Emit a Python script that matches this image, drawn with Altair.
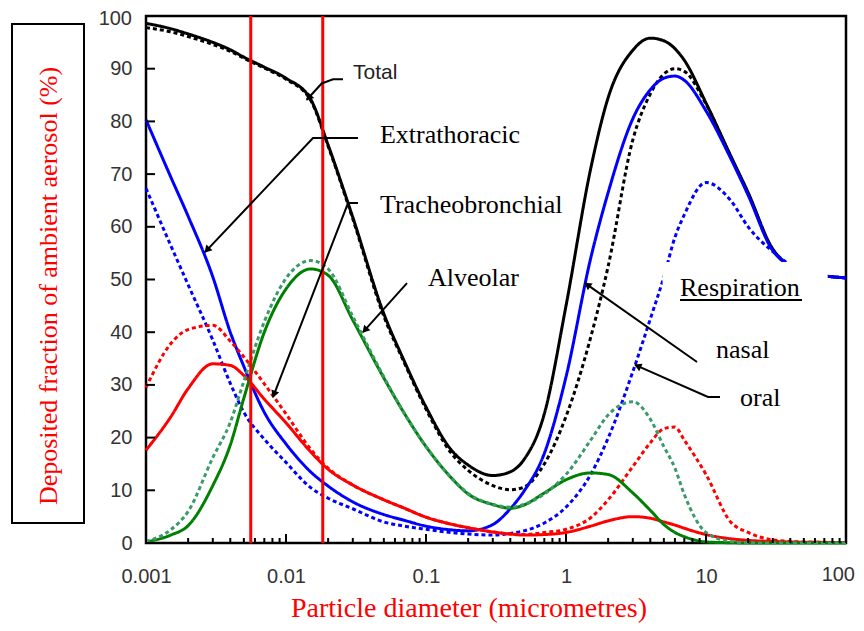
import math
import altair as alt
import pandas as pd

# ---------------- data ----------------
DIAMETER = [0.001, 0.0015, 0.002, 0.003, 0.004, 0.005, 0.007, 0.01, 0.015, 0.02,
            0.03, 0.05, 0.07, 0.1, 0.15, 0.2, 0.3, 0.4, 0.5, 0.7,
            1, 1.5, 2, 3, 4, 5, 6, 7, 10, 15, 20, 30, 50, 100]

TOTAL_NASAL = [98.6, 97.6, 96.6, 95.0, 93.6, 92.2, 90.3, 88.2, 84.2, 75.5,
               61.8, 43.5, 34.5, 25.8, 17.8, 14.8, 12.8, 13.5, 15.8, 24.5,
               45.0, 71.0, 84.5, 93.5, 95.8, 95.3, 93.8, 91.6, 83.5, 73.5, 66.5, 55.8, 51.5, 50.3]
TOTAL_ORAL = [97.8, 97.0, 96.1, 94.6, 93.3, 92.0, 90.1, 88.0, 84.0, 75.3,
              61.5, 43.0, 34.2, 25.4, 17.2, 13.8, 10.9, 10.1, 10.6, 15.0,
              24.0, 39.0, 52.5, 76.5, 85.2, 89.0, 90.0, 89.5, 83.3, 73.3, 66.3, 55.6, 51.5, 50.3]
ET_NASAL = [80.3, 69.5, 62.0, 50.5, 40.0, 33.5, 24.8, 18.8, 13.5, 10.8,
            7.8, 5.4, 4.3, 3.2, 2.5, 2.3, 3.5, 6.5, 9.8, 17.0,
            31.5, 54.0, 66.5, 80.5, 86.0, 88.2, 88.6, 87.8, 82.0, 73.0, 66.0, 55.5, 51.5, 50.3]
ET_ORAL = [67.3, 56.5, 49.0, 38.5, 30.3, 24.8, 19.7, 15.3, 10.5, 8.5,
           6.5, 4.0, 3.2, 2.6, 2.0, 1.7, 1.5, 1.8, 2.3, 3.8,
           6.8, 13.0, 19.9, 32.5, 42.5, 50.5, 58.0, 62.3, 68.4, 65.0, 60.0, 55.3, 51.5, 50.3]
TB_NASAL = [17.6, 23.9, 29.3, 34.0, 33.7, 31.8, 27.3, 22.8, 17.3, 14.0,
            11.0, 8.2, 6.6, 4.9, 3.6, 2.9, 2.1, 1.7, 1.5, 1.6,
            2.0, 3.2, 4.2, 5.0, 4.7, 4.0, 3.4, 2.8, 1.6, 0.8, 0.5, 0.3, 0.15, 0.1]
TB_ORAL = [29.5, 37.8, 40.5, 41.3, 38.3, 35.3, 30.2, 24.5, 17.8, 14.2,
           11.0, 8.2, 6.6, 4.9, 3.6, 2.9, 2.1, 1.7, 1.6, 2.0,
           2.6, 4.8, 8.2, 14.5, 19.0, 21.7, 22.0, 19.5, 13.0, 4.0, 2.0, 0.6, 0.2, 0.1]
AL_NASAL = [0.2, 1.5, 3.3, 10.9, 18.6, 27.5, 40.0, 48.2, 52.0, 50.8,
            42.3, 31.3, 24.6, 18.3, 12.5, 9.3, 7.3, 6.6, 7.2, 9.5,
            12.0, 13.3, 13.0, 9.5, 6.2, 3.5, 2.0, 1.2, 0.2, 0.05, 0.0, 0.0, 0.0, 0.0]
AL_ORAL = [0.3, 2.5, 6.0, 16.2, 22.9, 30.7, 42.0, 50.2, 53.6, 52.0,
           43.0, 31.5, 24.6, 18.3, 12.5, 9.4, 7.3, 6.8, 7.3, 9.3,
           13.0, 19.5, 24.3, 26.8, 23.5, 18.3, 14.2, 9.2, 2.0, 0.3, 0.05, 0.0, 0.0, 0.0]

SERIES = ["Total nasal", "Total oral", "ET nasal", "ET oral",
          "TB nasal", "TB oral", "AL nasal", "AL oral"]
SERIES_VALUES = [TOTAL_NASAL, TOTAL_ORAL, ET_NASAL, ET_ORAL,
                 TB_NASAL, TB_ORAL, AL_NASAL, AL_ORAL]

VLINES = [0.0056, 0.0183]

X_LABELS = [0.001, 0.01, 0.1, 1, 10, 100]
X_LABEL_TEXT = ["0.001", "0.01", "0.1", "1", "10", "100"]
Y_LABELS = [0, 10, 20, 30, 40, 50, 60, 70, 80, 90, 100]
Y_LABEL_TEXT = ["0", "10", "20", "30", "40", "50", "60", "70", "80", "90", "100"]

# annotation texts (data coordinates: diameter, percent)
LABEL_TEXT = ["Extrathoracic", "Tracheobronchial", "Alveolar", "Respiration", "nasal", "oral"]
LABEL_D = [0.0469, 0.0469, 0.1033, 6.52, 11.79, 17.5]
LABEL_V = [77.4, 64.1, 50.3, 48.4, 36.6, 27.5]
TOTAL_LABEL = ("Total", 0.0301, 89.2)

# leader lines (last point = arrow tip)
LEADERS = {
    "total": ([0.02553, 0.02168, 0.01799, 0.01407], [88.0, 88.0, 87.2, 84.1]),
    "extra": ([0.03267, 0.01559, 0.002639], [76.85, 76.85, 55.2]),
    "trach": ([0.03267, 0.02773, 0.008073], [64.5, 64.5, 27.7]),
    "alv": ([0.07314, 0.03548], [49.3, 40.0]),
    "nasal": ([8.626, 1.367], [34.35, 49.3]),
    "oral": ([12.59, 10.335, 3.111], [27.7, 27.7, 33.8]),
}
UNDERLINE = ([6.52, 48.5], [46.1, 46.1])
LEGEND_BOX = ([4.9, 74.0], [40.3, 53.3])

# ---------------- styles ----------------
W, H = 700, 527
COLORS = ["#000000", "#000000", "#0000ff", "#0000ff",
          "#ff0000", "#ff0000", "#008000", "#3a9a6c"]
DASHES = [[1, 0], [4, 3], [1, 0], [4, 3], [1, 0], [4, 3], [1, 0], [4, 3]]

xscale = alt.Scale(type="log", domain=[0.001, 100], nice=False)
yscale = alt.Scale(domain=[0, 100], nice=False)

rows = []
for name, vals in zip(SERIES, SERIES_VALUES):
    for d, v in zip(DIAMETER, vals):
        rows.append({"series": name, "d": d, "v": v})
df = pd.DataFrame(rows)

curves = alt.Chart(df).mark_line(strokeWidth=3, interpolate="monotone").encode(
    x=alt.X("d:Q", scale=xscale,
            axis=alt.Axis(values=X_LABELS[:-1], format="~g", title=None, ticks=False,
                          domain=False, grid=False, labelFlush=False, labelOverlap=False,
                          labelFont="Liberation Sans", labelFontSize=20,
                          labelColor="#333333", labelPadding=23)),
    y=alt.Y("v:Q", scale=yscale,
            axis=alt.Axis(values=Y_LABELS[:-1], title=None, ticks=False, domain=False,
                          grid=False, labelFlush=False, labelOverlap=False,
                          labelFont="Liberation Sans", labelFontSize=20,
                          labelColor="#333333", labelPadding=14)),
    color=alt.Color("series:N", scale=alt.Scale(domain=SERIES, range=COLORS), legend=None),
    strokeDash=alt.StrokeDash("series:N", scale=alt.Scale(domain=SERIES, range=DASHES), legend=None),
)

# end labels drawn separately so they stay inside the page
last_xlbl = alt.Chart(pd.DataFrame({"d": [X_LABELS[-1]], "t": [X_LABEL_TEXT[-1]]})).mark_text(
    align="right", baseline="middle", dx=9, font="Liberation Sans", fontSize=20,
    color="#333333").encode(x=alt.X("d:Q", scale=xscale), y=alt.value(H + 32), text="t:N")
last_ylbl = alt.Chart(pd.DataFrame({"v": [Y_LABELS[-1]], "t": [Y_LABEL_TEXT[-1]]})).mark_text(
    align="right", baseline="middle", dx=-14, dy=3, font="Liberation Sans", fontSize=20,
    color="#333333").encode(y=alt.Y("v:Q", scale=yscale), x=alt.value(0), text="t:N")

box = alt.Chart(pd.DataFrame({"d1": [LEGEND_BOX[0][0]], "d2": [LEGEND_BOX[0][1]],
                              "v1": [LEGEND_BOX[1][0]], "v2": [LEGEND_BOX[1][1]]})).mark_rect(
    fill="white").encode(x=alt.X("d1:Q", scale=xscale), x2="d2:Q",
                         y=alt.Y("v1:Q", scale=yscale), y2="v2:Q")

vlines = alt.Chart(pd.DataFrame({"d": VLINES})).mark_rule(color="#ff0000", strokeWidth=3).encode(
    x=alt.X("d:Q", scale=xscale), y=alt.value(0), y2=alt.value(H))

# inward ticks
minor = []
for e in range(-3, 2):
    for m in range(2, 10):
        minor.append(m * 10.0 ** e)
xt_minor = alt.Chart(pd.DataFrame({"d": minor})).mark_rule(color="black", strokeWidth=2).encode(
    x=alt.X("d:Q", scale=xscale), y=alt.value(H), y2=alt.value(H - 5))
xt_major = alt.Chart(pd.DataFrame({"d": X_LABELS})).mark_rule(color="black", strokeWidth=2).encode(
    x=alt.X("d:Q", scale=xscale), y=alt.value(H), y2=alt.value(H - 9))
yt = alt.Chart(pd.DataFrame({"v": Y_LABELS})).mark_rule(color="black", strokeWidth=2).encode(
    y=alt.Y("v:Q", scale=yscale), x=alt.value(0), x2=alt.value(9))

# leader lines and arrowheads
lrows, arows = [], []
def to_px(d, v):
    return W * (math.log10(d) + 3) / 5.0, H * (1 - v / 100.0)
def to_data(px, py):
    return 10 ** (px * 5.0 / W - 3), 100.0 * (1 - py / H)
for key, (ds, vs) in LEADERS.items():
    for k, (d, v) in enumerate(zip(ds, vs)):
        lrows.append({"id": key, "k": k, "d": d, "v": v})
    x0, y0 = to_px(ds[-2], vs[-2])
    x1, y1 = to_px(ds[-1], vs[-1])
    dx, dy = x1 - x0, y1 - y0
    n = math.hypot(dx, dy)
    ang = math.degrees(math.atan2(dx, -dy)) % 360
    cd, cv = to_data(x1 - 4 * dx / n, y1 - 4 * dy / n)
    arows.append({"d": cd, "v": cv, "ang": ang})
for k, (d, v) in enumerate(zip(*UNDERLINE)):
    lrows.append({"id": "underline", "k": k, "d": d, "v": v})

leaders = alt.Chart(pd.DataFrame(lrows)).mark_line(color="black", strokeWidth=2).encode(
    x=alt.X("d:Q", scale=xscale), y=alt.Y("v:Q", scale=yscale),
    detail="id:N", order="k:Q")
arrows = alt.Chart(pd.DataFrame(arows)).mark_point(
    shape="triangle", filled=True, color="black", size=70, opacity=1).encode(
    x=alt.X("d:Q", scale=xscale), y=alt.Y("v:Q", scale=yscale),
    angle=alt.Angle("ang:Q", scale=None))

labels = alt.Chart(pd.DataFrame({"t": LABEL_TEXT, "d": LABEL_D, "v": LABEL_V})).mark_text(
    align="left", baseline="middle", font="Liberation Serif", fontSize=26, color="black").encode(
    x=alt.X("d:Q", scale=xscale), y=alt.Y("v:Q", scale=yscale), text="t:N")
total_lbl = alt.Chart(pd.DataFrame({"t": [TOTAL_LABEL[0]], "d": [TOTAL_LABEL[1]],
                                    "v": [TOTAL_LABEL[2]]})).mark_text(
    align="left", baseline="middle", font="Liberation Sans", fontSize=21, color="#222222").encode(
    x=alt.X("d:Q", scale=xscale), y=alt.Y("v:Q", scale=yscale), text="t:N")

# axis titles
ytitle_box = alt.Chart(pd.DataFrame({"a": [0]})).mark_rect(
    fill="white", stroke="black", strokeWidth=2).encode(
    x=alt.value(-134), x2=alt.value(-62), y=alt.value(8), y2=alt.value(507))
ytitle = alt.Chart(pd.DataFrame({"t": ["Deposited fraction of ambient aerosol (%)"]})).mark_text(
    font="Liberation Serif", fontSize=26, color="#ff0000", angle=270,
    align="center", baseline="middle").encode(
    x=alt.value(-97), y=alt.value(270), text="t:N")
xtitle = alt.Chart(pd.DataFrame({"t": ["Particle diameter (micrometres)"]})).mark_text(
    font="Liberation Serif", fontSize=28, color="#ff0000",
    align="center", baseline="alphabetic").encode(
    x=alt.value(323), y=alt.value(601), text="t:N")

chart = alt.layer(
    curves, box, vlines, xt_minor, xt_major, yt, leaders, arrows, labels, total_lbl,
    last_xlbl, last_ylbl, ytitle_box, ytitle, xtitle
).properties(
    width=W, height=H,
    autosize=alt.AutoSizeParams(type="none"),
    padding={"left": 138, "top": 8, "right": 10, "bottom": 80},
).configure_view(stroke="black", strokeWidth=2.5)

chart.save("out.html", embed_options={"renderer": "svg", "actions": False})
